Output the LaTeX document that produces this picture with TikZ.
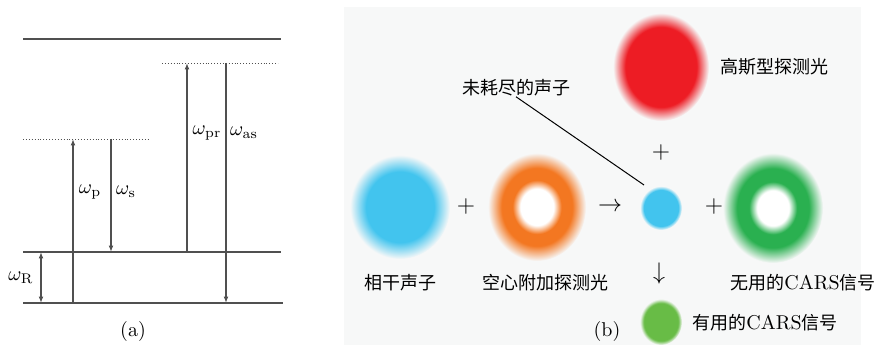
\documentclass[tikz,border=0pt]{standalone}
\usepackage{fontspec}
\newfontfamily\cjk{Noto Sans CJK SC}
\usetikzlibrary{arrows.meta,positioning,shapes.geometric}

\definecolor{levelgray}{RGB}{80,80,80}
\definecolor{panelbg}{RGB}{247,248,248}
\definecolor{spotred}{RGB}{237,28,36}
\definecolor{spotblue}{RGB}{66,196,238}
\definecolor{spotorange}{RGB}{243,119,33}
\definecolor{spotgreen}{RGB}{42,176,80}
\definecolor{spotlime}{RGB}{104,188,70}

% soft spots and rings, faded into the panel background
% (the node border sits at 25bp of a radial shading)
\pgfdeclareradialshading{redspot}{\pgfpoint{0bp}{0bp}}{color(0bp)=(spotred); color(18.5bp)=(spotred); color(25bp)=(panelbg); color(50bp)=(panelbg)}
\pgfdeclareradialshading{bluespot}{\pgfpoint{0bp}{0bp}}{color(0bp)=(spotblue); color(17bp)=(spotblue); color(25bp)=(panelbg); color(50bp)=(panelbg)}
\pgfdeclareradialshading{phononspot}{\pgfpoint{0bp}{0bp}}{color(0bp)=(spotblue); color(20.5bp)=(spotblue); color(25bp)=(panelbg); color(50bp)=(panelbg)}
\pgfdeclareradialshading{limespot}{\pgfpoint{0bp}{0bp}}{color(0bp)=(spotlime); color(20.5bp)=(spotlime); color(25bp)=(panelbg); color(50bp)=(panelbg)}
\pgfdeclareradialshading{orangering}{\pgfpoint{0bp}{0bp}}{color(0bp)=(white); color(8.5bp)=(white); color(12.5bp)=(spotorange); color(18bp)=(spotorange); color(25bp)=(panelbg); color(50bp)=(panelbg)}
\pgfdeclareradialshading{greenring}{\pgfpoint{0bp}{0bp}}{color(0bp)=(white); color(8bp)=(white); color(12bp)=(spotgreen); color(18bp)=(spotgreen); color(25bp)=(panelbg); color(50bp)=(panelbg)}

\newcommand\latn[1]{{\rmfamily\fontsize{10}{12}\selectfont #1}}

\begin{document}
\begin{tikzpicture}[x=0.5pt, y=-0.5pt,
    level/.style={draw=levelgray, line width=0.9pt},
    virtual/.style={draw=levelgray, densely dotted, line width=0.45pt},
    trans/.style={draw=levelgray, line width=0.65pt, -{Latex[length=3.2pt,width=2.4pt]}},
    lbl/.style={font=\fontsize{10}{12}\selectfont, inner sep=1pt},
    sym/.style={font=\fontsize{11.5}{13}\selectfont, inner sep=1pt},
    zh/.style={font=\fontsize{9}{11}\selectfont\cjk, inner sep=0pt},
    spot/.style={ellipse, shade, draw=none, inner sep=0pt}
]
\useasboundingbox (0,0) rectangle (879,347);

%% (a) energy levels
\coordinate (e2l) at (23,39);   \coordinate (e2r) at (281,39);
\coordinate (e1l) at (23,252);  \coordinate (e1r) at (281,252);
\coordinate (e0l) at (23,303);  \coordinate (e0r) at (283,303);
\coordinate (v1l) at (23,139);  \coordinate (v1r) at (148,139);
\coordinate (v2l) at (162,63);  \coordinate (v2r) at (278,63);

\draw[level] (e2l) -- (e2r);
\draw[level] (e1l) -- (e1r);
\draw[level] (e0l) -- (e0r);
\draw[virtual] (v1l) -- (v1r);
\draw[virtual] (v2l) -- (v2r);

\coordinate (rtop) at (41,252);  \coordinate (rbot) at (41,303);
\coordinate (pbot) at (73,303);  \coordinate (ptop) at (73,139);
\coordinate (stop) at (111,139); \coordinate (sbot) at (111,252);
\coordinate (prbot) at (187,252); \coordinate (prtop) at (187,63);
\coordinate (astop) at (226,63); \coordinate (asbot) at (226,303);

\draw[trans, {Latex[length=3.2pt,width=2.4pt]}-{Latex[length=3.2pt,width=2.4pt]}] (rtop) -- (rbot);
\draw[trans] (pbot) -- (ptop);
\draw[trans] (stop) -- (sbot);
\draw[trans] (prbot) -- (prtop);
\draw[trans] (astop) -- (asbot);

\node[lbl] (wR) at (21,278) {$\omega_{\mathrm{R}}$};
\node[lbl] (wp) at (90,192) {$\omega_{\mathrm{p}}$};
\node[lbl] (ws) at (126,192) {$\omega_{\mathrm{s}}$};
\node[lbl] (wpr) at (207,133) {$\omega_{\mathrm{pr}}$};
\node[lbl] (was) at (244,133) {$\omega_{\mathrm{as}}$};
\node[lbl] (capa) at (133,332) {(a)};

%% (b) beams
\fill[panelbg] (344,7) rectangle (861,345);

\node[spot, shading=redspot, minimum width=48pt, minimum height=54pt] (probe) at (661,67) {};
\node[spot, shading=bluespot, minimum width=50pt, minimum height=52pt] (coherent) at (400,207) {};
\node[spot, shading=orangering, minimum width=49pt, minimum height=54pt] (hollow) at (537,207) {};
\node[spot, shading=phononspot, minimum width=21pt, minimum height=22pt] (phonon) at (661,208) {};
\node[spot, shading=greenring, minimum width=50pt, minimum height=55pt] (background) at (773,208) {};
\node[spot, shading=limespot, minimum width=21pt, minimum height=23pt] (signal) at (661,322) {};

\node[sym] (plus1) at (466,207) {$+$};
\node[sym] (to) at (610,207) {$\rightarrow$};
\node[sym] (plus2) at (714,207) {$+$};
\node[sym] (plus3) at (661,153) {$+$};
\node[sym] (down) at (659,274) {$\downarrow$};

\node[zh] (probelbl) at (774,67) {高斯型探测光};
\node[zh] (leftover) at (516,88) {未耗尽的声子};
\node[zh] (coherentlbl) at (400,283) {相干声子};
\node[zh] (hollowlbl) at (545,283) {空心附加探测光};
\node[zh] (backgroundlbl) at (803,283) {无用的\latn{CARS}信号};
\node[zh] (signallbl) at (765,323) {有用的\latn{CARS}信号};
\node[lbl] (capb) at (607,332) {(b)};

\coordinate (leadend) at (644,185);
\draw[line width=0.5pt] (leftover.south) -- (leadend);

\end{tikzpicture}
\end{document}
